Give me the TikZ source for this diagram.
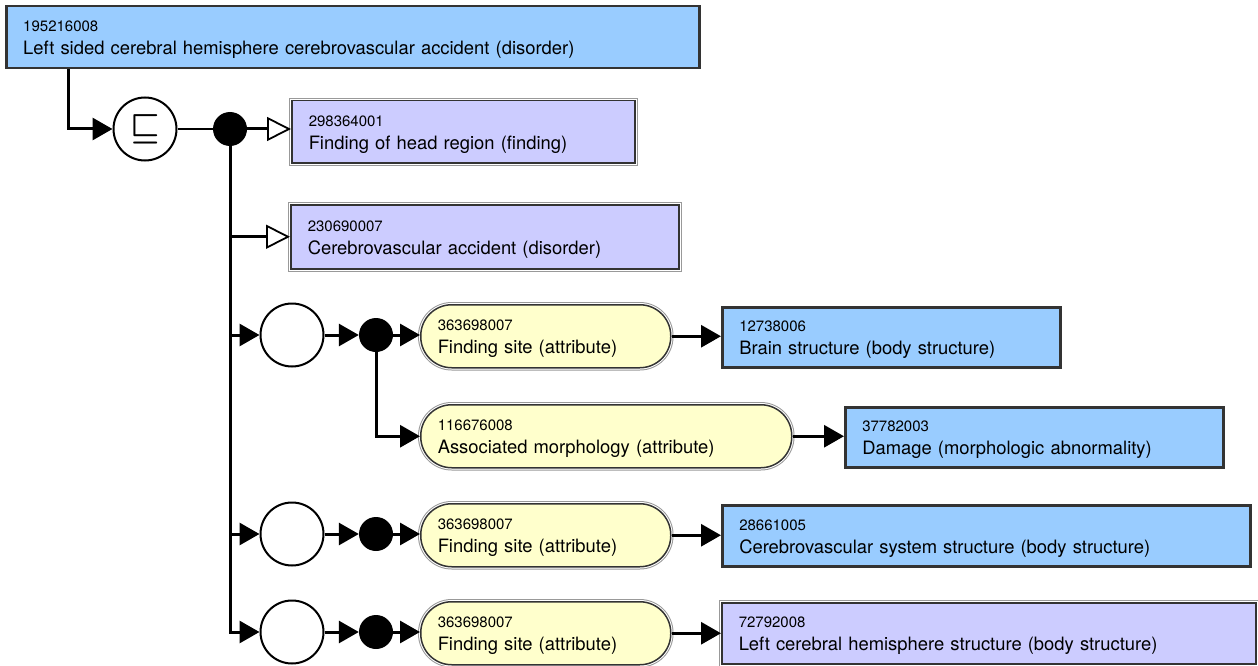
\documentclass[tikz,border=0pt]{standalone}
\usepackage{fontspec}
\setmainfont{TeX Gyre Heros}
\usetikzlibrary{arrows.meta}

\definecolor{primblue}{HTML}{99CCFF}
\definecolor{defpurple}{HTML}{CCCCFF}
\definecolor{attryellow}{HTML}{FFFFCC}
\definecolor{edgegray}{HTML}{333333}
\newcommand\conceptid{\fontsize{15}{23}\selectfont}

\begin{document}
\begin{tikzpicture}[x=1pt,y=-1pt,font=\fontsize{18.4}{23}\selectfont]
          \tikzset{
            conn/.style={line width=3pt,-{Triangle[length=20pt,width=22pt]}},
            isa/.style={line width=3pt,-{Triangle[open,length=24pt,width=24pt,line width=1.8pt]}},
            link/.style={line width=1.6pt},
            concept/.style={anchor=north west,align=left,inner xsep=17pt,inner ysep=0pt,text height=16pt},
            primbox/.style={concept,draw=edgegray,line width=2.5pt,fill=primblue},
            defbox/.style={concept,draw=edgegray,line width=1.5pt,fill=#1,
              preaction={draw=gray!80,line width=5.5pt},
              preaction={draw=white,line width=3.5pt}},
            defbox/.default=defpurple,
            attrbox/.style={defbox=attryellow,rounded corners=31pt},
            group/.style={circle,draw,line width=2pt,fill=white,minimum size=63pt,inner sep=0pt},
            conj/.style={circle,fill=black,minimum size=34pt,inner sep=0pt},
          }
          \useasboundingbox (0,0) rectangle (1258,666);

          \node[primbox,text width=659pt,minimum height=62pt] (root) at (5,5)
            {{\conceptid 195216008}\\Left sided cerebral hemisphere cerebrovascular accident (disorder)};
          \node[group] (sub) at (145,129) {\scalebox{1.9}{\boldmath$\sqsubseteq$}};
          \node[conj] (and0) at (230,129) {};

          % parents
          \node[defbox,text width=309pt,minimum height=62pt] (finding) at (291,100)
            {{\conceptid 298364001}\\Finding of head region (finding)};
          \node[defbox,text width=354pt,minimum height=64pt] (cva) at (290,204)
            {{\conceptid 230690007}\\Cerebrovascular accident (disorder)};

          % role groups
          \node[group] (grp1) at (292,335) {};
          \node[conj] (and1) at (376,335) {};
          \node[attrbox,text width=216pt,minimum height=63pt] (site1) at (420,304)
            {{\conceptid 363698007}\\Finding site (attribute)};
          \node[primbox,text width=304pt,minimum height=60pt] (brain) at (721,306)
            {{\conceptid 12738006}\\Brain structure (body structure)};
          \node[attrbox,text width=337pt,minimum height=63pt] (morph) at (420,404)
            {{\conceptid 116676008}\\Associated morphology (attribute)};
          \node[primbox,text width=344pt,minimum height=60pt] (damage) at (844,406)
            {{\conceptid 37782003}\\Damage (morphologic abnormality)};

          \node[group] (grp2) at (292,534) {};
          \node[conj] (and2) at (376,534) {};
          \node[attrbox,text width=216pt,minimum height=63pt] (site2) at (420,503)
            {{\conceptid 363698007}\\Finding site (attribute)};
          \node[primbox,text width=494pt,minimum height=61pt] (cvs) at (721,504)
            {{\conceptid 28661005}\\Cerebrovascular system structure (body structure)};

          \node[group] (grp3) at (292,632) {};
          \node[conj] (and3) at (376,632) {};
          \node[attrbox,text width=216pt,minimum height=63pt] (site3) at (420,601)
            {{\conceptid 363698007}\\Finding site (attribute)};
          \node[defbox,text width=500pt,minimum height=61pt] (lchs) at (721,602)
            {{\conceptid 72792008}\\Left cerebral hemisphere structure (body structure)};

          % is-a edges
          \draw[conn] ([xshift=63pt]root.south west) |- (sub);
          \draw[link] (sub) -- (and0);
          \draw[isa] (and0) -- (and0 -| finding.west);
          \draw[isa] (and0 |- cva.west) -- (cva.west);

          % attribute edges
          \draw[conn] (and0) |- (grp3);
          \draw[conn] (and0 |- grp1) -- (grp1);
          \draw[conn] (and0 |- grp2) -- (grp2);
          \foreach \i in {1,2,3} {
            \draw[conn] (grp\i) -- (and\i);
            \draw[conn] (and\i) -- (and\i -| site\i.west);
          }
          \draw[conn] (and1) |- (morph.west);
          \draw[conn] (site1.east) -- (site1.east -| brain.west);
          \draw[conn] (morph.east) -- (morph.east -| damage.west);
          \draw[conn] (site2.east) -- (site2.east -| cvs.west);
          \draw[conn] (site3.east) -- (site3.east -| lchs.west);
        \end{tikzpicture}
\end{document}
